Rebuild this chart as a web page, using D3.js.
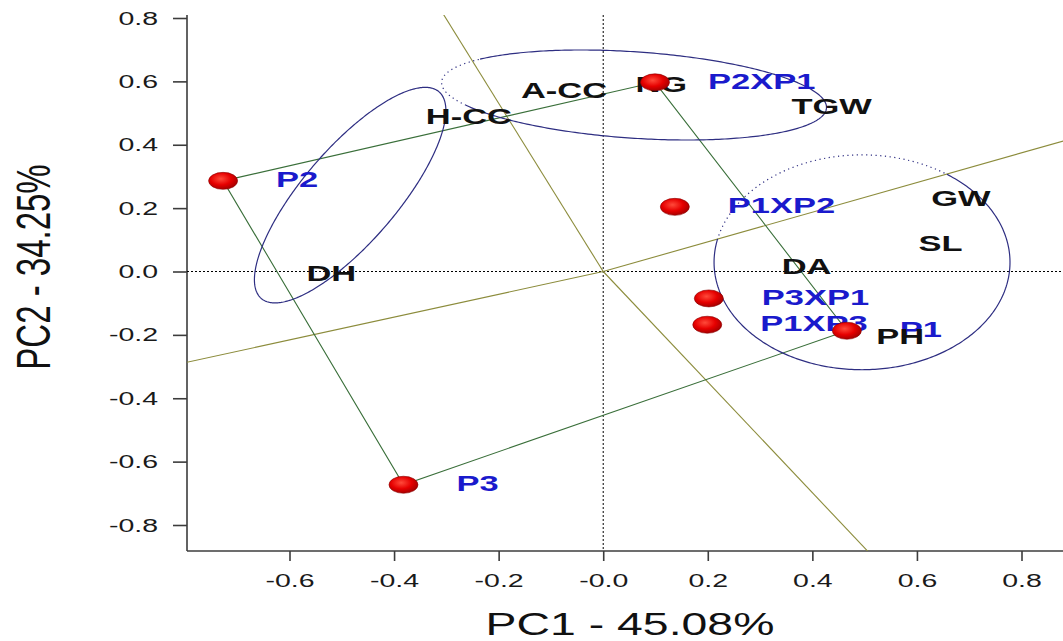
<!DOCTYPE html>
<html lang="en">
<head>
  <meta charset="UTF-8" />
  <title>GGE biplot PC1 vs PC2</title>
  <script src="https://cdn.jsdelivr.net/npm/d3@7"></script>
  <style>
    body { margin: 0; background: #fff; }
    svg { display: block; font-family: "Liberation Sans", Arial, sans-serif; }
  </style>
</head>
<body>
  <div id="chart"></div>
  <script>
    // Axis ticks
    const xTicks = [-0.6, -0.4, -0.2, 0, 0.2, 0.4, 0.6, 0.8];
    const xTickLabels = ["-0.6", "-0.4", "-0.2", "-0.0", "0.2", "0.4", "0.6", "0.8"];
    const yTicks = [-0.8, -0.6, -0.4, -0.2, 0, 0.2, 0.4, 0.6, 0.8];
    const yTickLabels = ["-0.8", "-0.6", "-0.4", "-0.2", "0.0", "0.2", "0.4", "0.6", "0.8"];

    // Genotypes (red points)
    const genotypes = ["P2", "P3", "P2XP1", "P1XP2", "P3XP1", "P1XP3", "P1"];
    const genoPC1 = [-0.727, -0.382, 0.099, 0.137, 0.202, 0.199, 0.466];
    const genoPC2 = [0.286, -0.673, 0.597, 0.204, -0.085, -0.168, -0.187];

    // Polygon vertices (which-won-where)
    const hull = ["P2", "P2XP1", "P1", "P3"];

    // Traits (black labels)
    const traits = ["A-CC", "NG", "H-CC", "TGW", "GW", "SL", "DA", "DH", "PH"];
    const traitPC1 = [-0.075, 0.111, -0.257, 0.437, 0.684, 0.645, 0.389, -0.520, 0.568];
    const traitPC2 = [0.573, 0.591, 0.492, 0.521, 0.233, 0.090, 0.017, -0.005, -0.203];

    // Trait groups circled by ellipses: centre and two half-axis vectors (data units),
    // plus the part (degrees) drawn dotted
    const groupCentre = [[-0.484, 0.241], [0.059, 0.557], [0.495, 0.029]];
    const groupAxisA = [[0.170, 0.326], [0.368, -0.041], [0.283, 0]];
    const groupAxisB = [[0.068, -0.097], [-0.0055, -0.136], [0, -0.339]];
    const groupDotted = [null, [150, 216], [192, 305]];

    const W = 1063, H = 641;
    const plotL = 187, plotR = 1063, plotT = 15, plotB = 551;
    const sx = 1.5; // the original picture is stretched sideways

    const svg = d3.select("#chart").append("svg")
      .attr("width", W).attr("height", H);

    const x = d3.scaleLinear().domain([-0.6, 0.8]).range([289.5, 1021.5]);
    const y = d3.scaleLinear().domain([-0.8, 0.8]).range([525, 18]);

    const defs = svg.append("defs");
    defs.append("clipPath").attr("id", "plotclip")
      .append("rect").attr("x", plotL).attr("y", plotT)
      .attr("width", plotR - plotL).attr("height", plotB - plotT);
    const grad = defs.append("radialGradient").attr("id", "ball")
      .attr("cx", "42%").attr("cy", "38%").attr("r", "65%");
    grad.append("stop").attr("offset", "0%").attr("stop-color", "#ff4a3a");
    grad.append("stop").attr("offset", "55%").attr("stop-color", "#e60000");
    grad.append("stop").attr("offset", "100%").attr("stop-color", "#a00000");

    // Axes
    const xAxis = svg.append("g")
      .attr("transform", `translate(0,${plotB})`)
      .call(d3.axisBottom(x).tickValues(xTicks)
        .tickFormat((d, i) => xTickLabels[i]).tickSize(10).tickSizeOuter(0));
    xAxis.select(".domain").attr("d", `M${plotL},0H${plotR}`);
    const yAxis = svg.append("g")
      .attr("transform", `translate(${plotL},0)`)
      .call(d3.axisLeft(y).tickValues(yTicks)
        .tickFormat((d, i) => yTickLabels[i]).tickSize(14).tickSizeOuter(0));
    yAxis.select(".domain").attr("d", `M0,${plotB}V${plotT}`);

    svg.selectAll(".domain, .tick line").attr("stroke", "#3c3c3c").attr("stroke-width", 1.6);
    xAxis.selectAll(".tick text")
      .attr("y", 36).attr("dy", null)
      .attr("transform", `scale(${sx},1)`)
      .attr("font-size", 19).attr("fill", "#1a1a1a");
    yAxis.selectAll(".tick text")
      .attr("x", -29 / sx)
      .attr("transform", `scale(${sx},1)`)
      .attr("font-size", 19).attr("fill", "#1a1a1a");

    // Titles
    svg.append("text")
      .attr("transform", `translate(630,635) scale(${sx - 0.05},1)`)
      .attr("text-anchor", "middle").attr("font-size", 32).attr("fill", "#111")
      .text("PC1 - 45.08%");
    svg.append("text")
      .attr("transform", `translate(50,267) scale(${sx - 0.05},1) rotate(-90)`)
      .attr("text-anchor", "middle").attr("font-size", 33).attr("fill", "#111")
      .text("PC2 - 34.25%");

    const plot = svg.append("g").attr("clip-path", "url(#plotclip)");

    // Zero lines
    plot.append("line")
      .attr("x1", plotL).attr("x2", plotR).attr("y1", y(0)).attr("y2", y(0))
      .attr("stroke", "#000").attr("stroke-dasharray", "2,2");
    plot.append("line")
      .attr("x1", x(0)).attr("x2", x(0)).attr("y1", plotT).attr("y2", plotB)
      .attr("stroke", "#000").attr("stroke-dasharray", "2,2");

    const geno = genotypes.map((g, i) => ({ name: g, pc1: genoPC1[i], pc2: genoPC2[i] }));
    const byName = Object.fromEntries(geno.map(d => [d.name, d]));
    const poly = hull.map(n => byName[n]);

    // Rays from the origin, perpendicular to each polygon side
    poly.forEach((p, i) => {
      const q = poly[(i + 1) % poly.length];
      const dx = q.pc1 - p.pc1, dy = q.pc2 - p.pc2;
      const t = -(p.pc1 * dx + p.pc2 * dy) / (dx * dx + dy * dy);
      const fx = p.pc1 + t * dx, fy = p.pc2 + t * dy;
      const len = Math.hypot(fx, fy);
      plot.append("line")
        .attr("x1", x(0)).attr("y1", y(0))
        .attr("x2", x(fx / len * 5)).attr("y2", y(fy / len * 5))
        .attr("stroke", "#8c8c3c").attr("stroke-width", 1.1);
    });

    // Polygon
    plot.append("path")
      .datum(poly)
      .attr("fill", "none")
      .attr("stroke", "#3a6f3a").attr("stroke-width", 1.1)
      .attr("d", d3.line().x(d => x(d.pc1)).y(d => y(d.pc2)).curve(d3.curveLinearClosed));

    // Ellipses
    const ellLine = d3.line().x(d => x(d[0])).y(d => y(d[1]));
    function arcPoints(k, a0, a1) {
      const c = groupCentre[k], A = groupAxisA[k], B = groupAxisB[k];
      const pts = [];
      for (let a = a0; a <= a1 + 0.001; a += 1) {
        const t = a * Math.PI / 180;
        pts.push([c[0] + Math.cos(t) * A[0] + Math.sin(t) * B[0],
                  c[1] + Math.cos(t) * A[1] + Math.sin(t) * B[1]]);
      }
      return pts;
    }
    groupCentre.forEach((c, k) => {
      const dot = groupDotted[k];
      const solid = dot ? arcPoints(k, dot[1], dot[0] + 360) : arcPoints(k, 0, 360);
      plot.append("path").attr("d", ellLine(solid))
        .attr("fill", "none").attr("stroke", "#2e2e82").attr("stroke-width", 1.2);
      if (dot) {
        plot.append("path").attr("d", ellLine(arcPoints(k, dot[0], dot[1])))
          .attr("fill", "none").attr("stroke", "#2e2e82").attr("stroke-width", 1.2)
          .attr("stroke-dasharray", "1.2,3.5");
      }
    });

    // Genotype labels
    plot.selectAll(".glab").data(geno).join("text")
      .attr("class", "glab")
      .attr("transform", d => `translate(${x(d.pc1) + 53},${y(d.pc2) + 6.5}) scale(${sx},1)`)
      .attr("font-size", 23).attr("font-weight", "bold").attr("fill", "#1a1acc")
      .text(d => d.name);

    // Trait labels
    plot.selectAll(".tlab").data(traits).join("text")
      .attr("class", "tlab")
      .attr("transform", (d, i) => `translate(${x(traitPC1[i])},${y(traitPC2[i])}) scale(${sx},1)`)
      .attr("text-anchor", "middle").attr("dy", "0.35em")
      .attr("font-size", 23).attr("font-weight", "bold").attr("fill", "#111")
      .text(d => d);

    // Genotype points
    plot.selectAll(".pt").data(geno).join("ellipse")
      .attr("class", "pt")
      .attr("cx", d => x(d.pc1)).attr("cy", d => y(d.pc2))
      .attr("rx", 14.5).attr("ry", 8.5)
      .attr("fill", "url(#ball)")
      .attr("stroke", "#8a0000").attr("stroke-width", 0.6);
  </script>
</body>
</html>
